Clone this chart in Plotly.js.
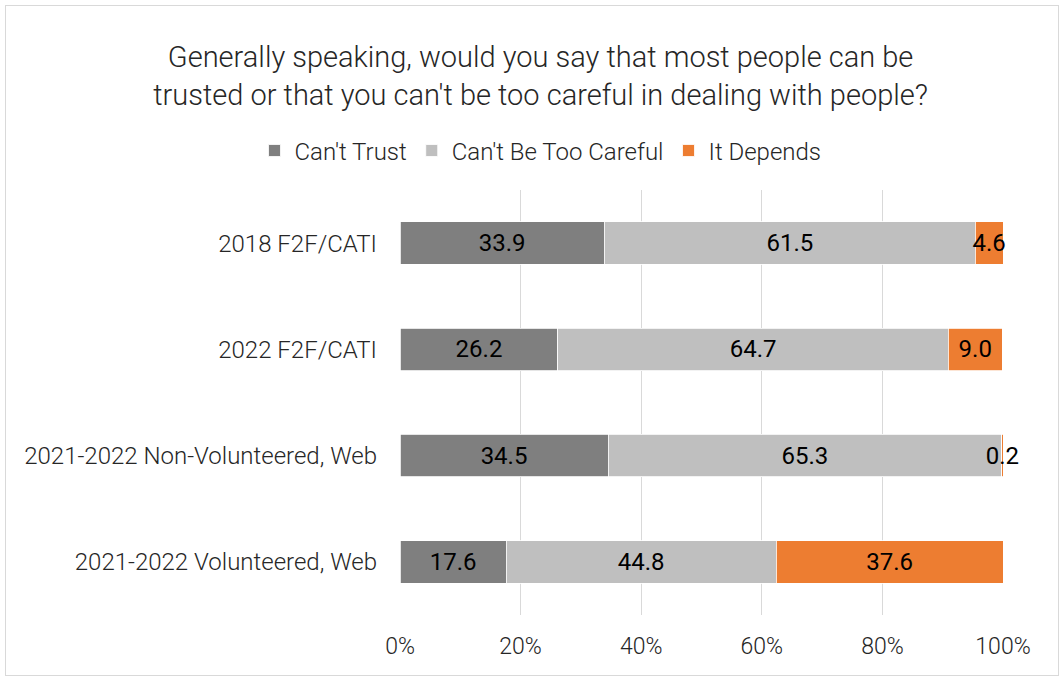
<!DOCTYPE html>
<html>
<head>
<meta charset="utf-8">
<script src="https://cdn.plot.ly/plotly-3.0.1.min.js"></script>
<style>
  html, body { margin: 0; padding: 0; background: #fff; }
  #wrap { position: relative; width: 1060px; height: 677px; }
  #chart { width: 1060px; height: 677px; }
  #frame { position: absolute; left: 5px; top: 5px; width: 1052px; height: 669px; border: 1px solid #d9d9d9; pointer-events: none; }
</style>
</head>
<body>
<div id="wrap">
  <div id="chart"></div>
  <div id="frame"></div>
</div>
<script>
const categories = [
  "2018 F2F/CATI",
  "2022 F2F/CATI",
  "2021-2022 Non-Volunteered, Web",
  "2021-2022 Volunteered, Web"
];
const seriesNames = ["Can't Trust", "Can't Be Too Careful", "It Depends"];
const cantTrust = [33.9, 26.2, 34.5, 17.6];
const tooCareful = [61.5, 64.7, 65.3, 44.8];
const itDepends = [4.6, 9.0, 0.2, 37.6];
const colors = ["#7f7f7f", "#bfbfbf", "#ed7d31"];

const FONT = "Roboto, 'Noto Sans', sans-serif";
const allSeries = [cantTrust, tooCareful, itDepends];

const traces = allSeries.map((vals, i) => ({
  type: "bar",
  orientation: "h",
  name: seriesNames[i],
  y: categories,
  x: vals,
  text: vals.map(v => v.toFixed(1)),
  textposition: "inside",
  insidetextanchor: "middle",
  textangle: 0,
  constraintext: "none",
  cliponaxis: false,
  textfont: { family: FONT, size: 24, color: "#000000", weight: 400 },
  marker: { color: colors[i], line: { color: "#ffffff", width: 0.8 } },
  width: 0.4,
  hoverinfo: "x+name"
}));

const layout = {
  width: 1060,
  height: 677,
  barmode: "stack",
  margin: { l: 400, r: 57, t: 190, b: 62 },
  paper_bgcolor: "#ffffff",
  plot_bgcolor: "#ffffff",
  font: { family: FONT, color: "#404040", weight: 300 },
  title: {
    text: "Generally speaking, would you say that most people can be<br>trusted or that you can't be too careful in dealing with people?",
    font: { family: FONT, size: 29, color: "#262626", weight: 300 },
    x: 0.51, xref: "container", xanchor: "center",
    y: 0.901, yref: "container", yanchor: "middle"
  },
  showlegend: true,
  legend: {
    orientation: "h",
    x: 0.233, xanchor: "center",
    y: 1.092, yanchor: "middle",
    font: { family: FONT, size: 24, color: "#262626", weight: 300 },
    traceorder: "normal",
    itemwidth: 30,
    bgcolor: "rgba(0,0,0,0)"
  },
  xaxis: {
    range: [0, 100],
    tickvals: [0, 20, 40, 60, 80, 100],
    ticktext: ["0%", "20%", "40%", "60%", "80%", "100%"],
    showgrid: true,
    gridcolor: "#d9d9d9",
    gridwidth: 1,
    zeroline: false,
    showline: false,
    ticks: "",
    ticklabelstandoff: 15,
    tickfont: { family: FONT, size: 23, color: "#262626", weight: 300 },
    fixedrange: true
  },
  yaxis: {
    type: "category",
    categoryorder: "array",
    categoryarray: categories,
    autorange: "reversed",
    showgrid: false,
    zeroline: false,
    showline: false,
    ticks: "",
    ticklabelstandoff: 22,
    tickfont: { family: FONT, size: 24, color: "#262626", weight: 300 },
    fixedrange: true
  },
  bargap: 0.6
};

Plotly.newPlot("chart", traces, layout, { displayModeBar: false, staticPlot: true });
</script>
</body>
</html>
